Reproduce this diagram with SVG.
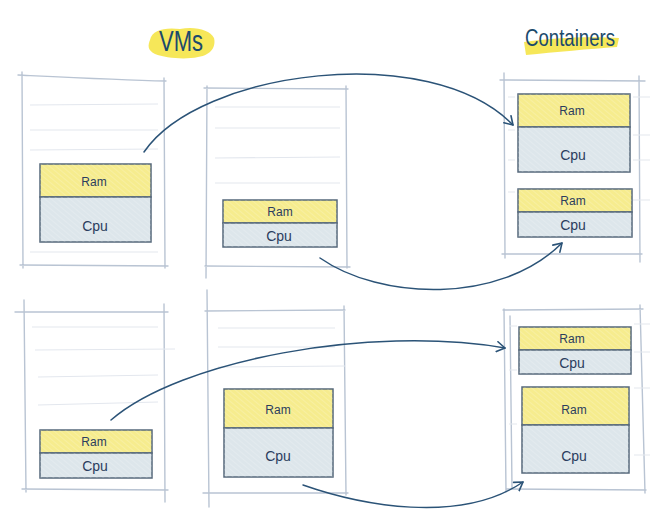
<svg xmlns="http://www.w3.org/2000/svg" width="658" height="521" viewBox="0 0 658 521">
<defs>
<pattern id="hatch" patternUnits="userSpaceOnUse" width="4" height="4" patternTransform="rotate(-50)">
<line x1="0" y1="0" x2="0" y2="4" stroke="#ffffff" stroke-opacity="0.35" stroke-width="1"/>
</pattern>
<marker id="arr" markerWidth="12" markerHeight="12" refX="9" refY="6" orient="auto" markerUnits="userSpaceOnUse">
<path d="M1,1 L9,6 L1,11" fill="none" stroke="#2b5377" stroke-width="1.6" stroke-linecap="round" stroke-linejoin="round"/>
</marker>
</defs>
<style>
.outer{fill:none;stroke:#b9c4d3;stroke-width:1.4;stroke-linecap:round}
.faint{fill:none;stroke:#e3e7ee;stroke-width:1.1}
.ram{fill:#f6ec8e;stroke:#56687b;stroke-width:1.5}
.cpu{fill:#dde6eb;stroke:#56687b;stroke-width:1.5}
.hatch{fill:url(#hatch);stroke:none}
.lbl{font-family:"Liberation Sans","DejaVu Sans",sans-serif;fill:#2b3d5e;text-anchor:middle;dominant-baseline:central}
.r{font-size:12px}
.c{font-size:14px}
.title{font-family:"Liberation Sans","DejaVu Sans",sans-serif;fill:#1c4a6c}
.hl{fill:#f5e33c;opacity:0.85}
.conn{fill:none;stroke:#2b5377;stroke-width:1.5;stroke-linecap:round}
</style>
<rect width="658" height="521" fill="#ffffff"/>

<g id="title-vms">
<path class="hl" d="M150,40 C152,30 165,27 180,29 C195,26 210,30 214,38 C216,46 212,55 198,57 C185,60 165,58 155,54 C147,50 148,45 150,40 Z"/>
<text class="title" x="181" y="51" font-size="29" text-anchor="middle" textLength="44" lengthAdjust="spacingAndGlyphs">VMs</text>
</g>
<g id="title-containers">
<path class="hl" d="M524,42 C550,38 590,36 619,38 L617,47 C590,49 555,52 526,55 Z"/>
<text class="title" x="570" y="46" font-size="24" text-anchor="middle" textLength="90" lengthAdjust="spacingAndGlyphs">Containers</text>
</g>

<g id="vm-top-left">
<path class="outer" d="M22,72 L23,268 M18,75 C60,77 120,80 166,81 M164,78 L165,268 M20,265 L168,266"/>
<path class="faint" d="M30,105 L158,104 M30,130 L158,130 M30,150 L158,149 M30,252 L158,252"/>
<rect class="ram" x="40" y="164" width="111" height="33"/>
<rect class="hatch" x="40" y="164" width="111" height="33"/>
<rect class="cpu" x="40" y="197" width="111" height="45"/>
<rect class="hatch" x="40" y="197" width="111" height="45"/>
<text class="lbl r" x="94" y="182">Ram</text>
<text class="lbl c" x="95" y="226">Cpu</text>
</g>

<g id="vm-top-middle">
<path class="outer" d="M207,86 L206,278 M204,88 L348,89 M346,86 L347,268 M205,266 L350,267"/>
<path class="faint" d="M215,107 L340,107 M215,128 L340,128 M215,158 L340,157 M215,183 L340,183"/>
<rect class="ram" x="223" y="200" width="114" height="23"/>
<rect class="hatch" x="223" y="200" width="114" height="23"/>
<rect class="cpu" x="223" y="223" width="114" height="24"/>
<rect class="hatch" x="223" y="223" width="114" height="24"/>
<text class="lbl r" x="280" y="212">Ram</text>
<text class="lbl c" x="279" y="236">Cpu</text>
</g>

<g id="container-top">
<path class="outer" d="M504,73 L505,258 M500,80 L645,81 M639,76 L640,262 M502,254 L642,254"/>
<path class="faint" d="M508,97 L515,97 M508,130 L515,130 M508,160 L515,160 M508,192 L515,192 M633,97 L650,97 M633,135 L650,135 M633,160 L650,160 M633,200 L650,200"/>
<rect class="ram" x="518" y="94" width="112" height="33"/>
<rect class="hatch" x="518" y="94" width="112" height="33"/>
<rect class="cpu" x="518" y="127" width="112" height="45"/>
<rect class="hatch" x="518" y="127" width="112" height="45"/>
<rect class="ram" x="518" y="189" width="114" height="23"/>
<rect class="hatch" x="518" y="189" width="114" height="23"/>
<rect class="cpu" x="518" y="212" width="114" height="25"/>
<rect class="hatch" x="518" y="212" width="114" height="25"/>
<text class="lbl r" x="572" y="111">Ram</text>
<text class="lbl c" x="573" y="155">Cpu</text>
<text class="lbl r" x="573" y="201">Ram</text>
<text class="lbl c" x="573" y="225">Cpu</text>
</g>

<g id="vm-bottom-left">
<path class="outer" d="M24,300 L26,492 M15,312 L168,312 M164,304 L165,502 M22,489 L168,490"/>
<path class="faint" d="M32,327 L158,327 M35,350 L175,349 M38,377 L158,375 M38,405 L158,402"/>
<rect class="ram" x="40" y="430" width="112" height="23"/>
<rect class="hatch" x="40" y="430" width="112" height="23"/>
<rect class="cpu" x="40" y="453" width="112" height="25"/>
<rect class="hatch" x="40" y="453" width="112" height="25"/>
<text class="lbl r" x="94" y="442">Ram</text>
<text class="lbl c" x="95" y="466">Cpu</text>
</g>

<g id="vm-bottom-middle">
<path class="outer" d="M207,290 L209,507 M205,311 L345,310 M344,306 L346,495 M203,493 L348,493"/>
<path class="faint" d="M218,328 L335,328 M218,347 L335,347 M218,367 L345,366"/>
<rect class="ram" x="224" y="389" width="109" height="39"/>
<rect class="hatch" x="224" y="389" width="109" height="39"/>
<rect class="cpu" x="224" y="428" width="109" height="49"/>
<rect class="hatch" x="224" y="428" width="109" height="49"/>
<text class="lbl r" x="278" y="410">Ram</text>
<text class="lbl c" x="278" y="456">Cpu</text>
</g>

<g id="container-bottom">
<path class="outer" d="M504,309 L506,492 M510,316 L512,488 M503,310 L643,309 M640,305 L645,493 M506,489 L646,490"/>
<path class="faint" d="M509,326 L517,326 M509,370 L517,370 M509,424 L517,424 M634,324 L650,324 M634,352 L650,352 M634,388 L650,388 M634,455 L650,455"/>
<rect class="ram" x="519" y="327" width="112" height="23"/>
<rect class="hatch" x="519" y="327" width="112" height="23"/>
<rect class="cpu" x="519" y="350" width="112" height="24"/>
<rect class="hatch" x="519" y="350" width="112" height="24"/>
<rect class="ram" x="522" y="387" width="107" height="38"/>
<rect class="hatch" x="522" y="387" width="107" height="38"/>
<rect class="cpu" x="522" y="425" width="107" height="48"/>
<rect class="hatch" x="522" y="425" width="107" height="48"/>
<text class="lbl r" x="572" y="339">Ram</text>
<text class="lbl c" x="572" y="363">Cpu</text>
<text class="lbl r" x="574" y="410">Ram</text>
<text class="lbl c" x="574" y="456">Cpu</text>
</g>

<g id="connectors">
<path class="conn" marker-end="url(#arr)" d="M144,152 C200,70 430,40 513,125"/>
<path class="conn" marker-end="url(#arr)" d="M320,258 C380,300 500,305 562,243"/>
<path class="conn" marker-end="url(#arr)" d="M111,420 C180,360 370,325 505,348"/>
<path class="conn" marker-end="url(#arr)" d="M303,485 C360,505 460,525 523,482"/>
</g>
</svg>
